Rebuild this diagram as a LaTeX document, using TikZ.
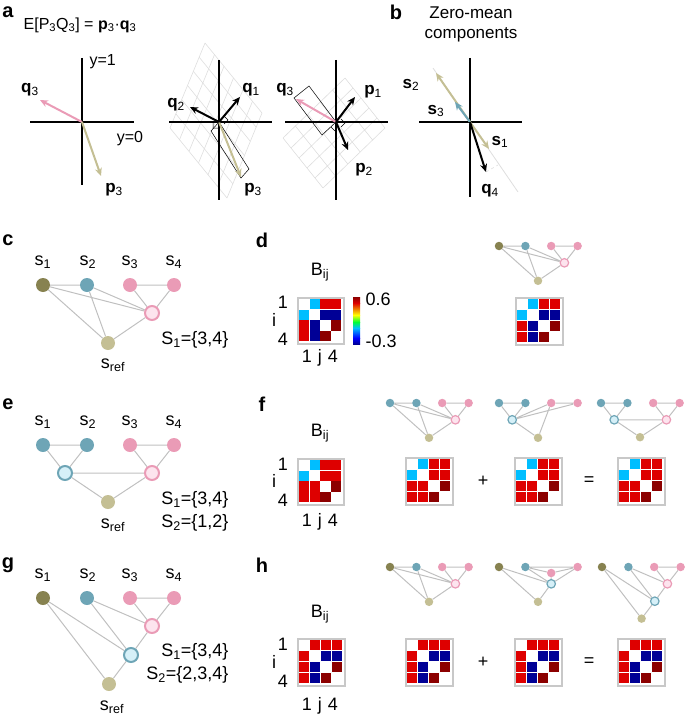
\documentclass[tikz,border=0pt]{standalone}
\usepackage{fontspec}
\setmainfont{Liberation Sans}
\usetikzlibrary{calc,arrows.meta}
\definecolor{pk}{RGB}{234,155,182}
\definecolor{pkl}{RGB}{253,228,238}
\definecolor{tl}{RGB}{110,165,182}
\definecolor{tll}{RGB}{214,240,248}
\definecolor{ol}{RGB}{135,130,80}
\definecolor{tn}{RGB}{196,191,148}
\definecolor{eg}{RGB}{192,192,192}
\definecolor{gr}{RGB}{222,222,222}
\definecolor{C}{RGB}{0,190,255}
\definecolor{R}{RGB}{222,0,0}
\definecolor{D}{RGB}{140,0,0}
\definecolor{B}{RGB}{0,0,150}
\definecolor{W}{RGB}{255,255,255}
\tikzset{
 nd/.style={circle,inner sep=0pt,minimum size=\ndsz},
 hb/.style={circle,inner sep=0pt,minimum size=\ndsz,line width=\hbw},
 ed/.style={eg,line width=1pt},
 vec/.style={line width=2pt,-{Stealth[length=8pt,width=7pt]}},
 ax/.style={black,line width=1.2pt},
 lab/.style={font=\fontsize{18}{18}\selectfont},
 vlab/.style={font=\fontsize{17}{17}\selectfont},
 alab/.style={font=\fontsize{16}{16}\selectfont},
 plab/.style={font=\fontsize{20}{20}\selectfont\bfseries},
 mfr/.style={draw={rgb,255:red,200;green,200;blue,200},line width=1.5pt}
}
\def\ndsz{14pt}\def\hbw{2pt}
\newcommand\grbase[2]{%
 \node[nd,fill=#1] (n1) at (0,0) {};
 \node[nd,fill=#2] (n2) at (44,0) {};
 \node[nd,fill=pk] (n4) at (131,0) {};}
\newcommand\grC[2]{\grbase{#1}{#2}\node[nd,fill=pk] (n3) at (87,0) {};
 \node[hb,draw=pk,fill=pkl] (hp) at (109,28) {};
 \node[nd,fill=tn] (sr) at (65,58) {};
 \begin{pgfonlayer}{bg}
 \draw[ed] (n1)--(n2) (n1)--(hp) (n1)--(sr) (n2)--(hp) (n2)--(sr) (n3)--(n4) (n3)--(hp) (n4)--(hp) (hp)--(sr);
 \end{pgfonlayer}}
\newcommand\grE[2]{\grbase{#1}{#2}\node[nd,fill=pk] (n3) at (87,0) {};
 \node[hb,draw=pk,fill=pkl] (hp) at (109,28) {};
 \node[hb,draw=tl,fill=tll] (ht) at (22,28) {};
 \node[nd,fill=tn] (sr) at (65,57) {};
 \begin{pgfonlayer}{bg}
 \draw[ed] (n1)--(n2) (n1)--(ht) (n2)--(ht) (n3)--(n4) (n3)--(hp) (n4)--(hp) (ht)--(hp) (ht)--(sr) (hp)--(sr);
 \end{pgfonlayer}}
\newcommand\grG[2]{\grbase{#1}{#2}\node[nd,fill=pk] (n3) at (87,0) {};
 \node[hb,draw=pk,fill=pkl] (hp) at (109,28) {};
 \node[hb,draw=tl,fill=tll] (ht) at (88,57) {};
 \node[nd,fill=tn] (sr) at (66,86) {};
 \begin{pgfonlayer}{bg}
 \draw[ed] (n3)--(n4) (n3)--(hp) (n4)--(hp) (n2)--(hp) (hp)--(ht) (n2)--(ht) (n1)--(ht) (n1)--(sr) (ht)--(sr);
 \end{pgfonlayer}}
\newcommand\grFb[2]{\grbase{#1}{#2}\node[nd,fill=pk] (n3) at (87,0) {};
 \node[hb,draw=tl,fill=tll] (ht) at (22,28) {};
 \node[nd,fill=tn] (sr) at (65,58) {};
 \begin{pgfonlayer}{bg}
 \draw[ed] (n1)--(n2) (n1)--(ht) (n2)--(ht) (n3)--(n4) (ht)--(n3) (ht)--(n4) (n3)--(sr) (ht)--(sr);
 \end{pgfonlayer}}
\newcommand\grHb[2]{\grbase{#1}{#2}\node[nd,fill=pk] (n3) at (87,10) {};
 \node[hb,draw=tl,fill=tll] (ht) at (87,28) {};
 \node[nd,fill=tn] (sr) at (65,58) {};
 \begin{pgfonlayer}{bg}
 \draw[ed] (n2)--(n4) (n2)--(n3) (n2)--(ht) (n3)--(n4) (n3)--(ht) (n4)--(ht) (n1)--(ht) (n1)--(sr) (ht)--(sr);
 \end{pgfonlayer}}
\newcommand\mat[4]{%
 \pgfmathsetmacro\cs{(#3-3)/4}
 \foreach \c [count=\k from 0] in #4 {
  \pgfmathtruncatemacro\r{div(\k,4)}\pgfmathtruncatemacro\q{mod(\k,4)}
  \fill[\c] ({#1+1.5+\q*\cs+0.25},{#2+1.5+\r*\cs+0.25}) rectangle ++({\cs-0.5},{\cs-0.5});
 }
 \node[mfr,inner sep=0pt,minimum size=#3pt,anchor=north west] at (#1,#2) {};}
\pgfdeclarelayer{bg}\pgfsetlayers{bg,main}
\def\MD{W,C,R,R,C,W,B,B,R,B,W,D,R,B,D,W}
\def\MF{W,C,R,R,C,W,R,R,R,R,W,D,R,R,D,W}
\def\MH{W,R,R,R,R,W,B,B,R,B,W,D,R,B,D,W}
\begin{document}
\begin{tikzpicture}[x=1pt,y=-1pt]
\useasboundingbox (0,0) rectangle (685,717);
% ---------- panel a ----------
\node[plab] (la) at (8,12) {a};
\node[font=\fontsize{16}{16}\selectfont] (ta) at (80,25) {E[P\textsubscript{3}Q\textsubscript{3}] = \textbf{p}\textsubscript{3}·\textbf{q}\textsubscript{3}};
\coordinate (o1) at (82,122);
\draw[ax] (82,58)--(82,185) (30,122)--(134,122);
\node[alab,anchor=west] (y1) at (86,62) {y=1};
\node[alab] (y0) at (130,139) {y=0};
\coordinate (q3a) at (40,100); \coordinate (p3a) at (101,176);
\draw[vec,pk] (o1)--(q3a);
\draw[vec,tn] (o1)--(p3a);
\node[vlab] (lq3a) at (30,90) {\textbf{q}\textsubscript{3}};
\node[vlab] (lp3a) at (114,190) {\textbf{p}\textsubscript{3}};
\coordinate (o2) at (219,122);
\coordinate (T2) at (205,43); \coordinate (R2) at (262,113); \coordinate (L2) at (170,128);
\coordinate (B2) at ($(R2)+(L2)-(T2)$);
\foreach \i in {0,...,6}{
 \draw[gr,line width=0.6pt] ($(T2)!\i/6!(R2)$)--($(L2)!\i/6!(B2)$);
 \draw[gr,line width=0.6pt] ($(T2)!\i/6!(L2)$)--($(R2)!\i/6!(B2)$);}
\draw[ax] (219,60)--(219,200) (169,122)--(272,122);
\draw[line width=0.5pt] (o2)--(211,131)--(241,178)--(249,169)--cycle;
\draw[line width=0.5pt] (213,123)--(213,128)--(218,128) (224,124)--(228,120)--(224,116);
\coordinate (q1b) at (240,97); \coordinate (q2b) at (190,107); \coordinate (p3b) at (241,177);
\draw[vec,tn] (o2)--(p3b);
\draw[vec] (o2)--(q1b);
\draw[vec] (o2)--(q2b);
\node[vlab] (lq2b) at (176,105) {\textbf{q}\textsubscript{2}};
\node[vlab] (lq1b) at (251,90) {\textbf{q}\textsubscript{1}};
\node[vlab] (lp3b) at (253,190) {\textbf{p}\textsubscript{3}};
\coordinate (o3) at (336,122);
\coordinate (T3) at (345,78); \coordinate (R3) at (385,128); \coordinate (L3) at (283,138);
\coordinate (B3) at ($(R3)+(L3)-(T3)$);
\foreach \i in {0,...,5}{
 \draw[gr,line width=0.6pt] ($(T3)!\i/5!(R3)$)--($(L3)!\i/5!(B3)$);
 \draw[gr,line width=0.6pt] ($(T3)!\i/5!(L3)$)--($(R3)!\i/5!(B3)$);}
\draw[ax] (336,60)--(336,200) (285,122)--(388,122);
\draw[line width=0.5pt] (o3)--(322,135)--(294,98)--(309,86)--cycle;
\draw[line width=0.5pt] (341,127)--(345,123)--(341,119) (331,127)--(335,131);
\coordinate (p1c) at (355,97); \coordinate (p2c) at (348,150); \coordinate (q3c) at (296,99);
\draw[vec,pk] (o3)--(q3c);
\draw[vec] (o3)--(p1c);
\draw[vec] (o3)--(p2c);
\node[vlab] (lq3c) at (285,90) {\textbf{q}\textsubscript{3}};
\node[vlab] (lp1c) at (373,92) {\textbf{p}\textsubscript{1}};
\node[vlab] (lp2c) at (364,170) {\textbf{p}\textsubscript{2}};
% ---------- panel b ----------
\node[plab] (lb) at (396,12) {b};
\node[font=\fontsize{17}{17}\selectfont,align=center] (tb) at (471,24) {Zero-mean\\[3pt]components};
\coordinate (o4) at (470,122);
\draw[gr,line width=0.8pt] (433,68)--(518,192);
\draw[ax] (470,58)--(470,197) (419,122)--(522,122);
\coordinate (s2d) at (436,73); \coordinate (s3d) at (455,102); \coordinate (s1d) at (489,149); \coordinate (q4d) at (486,172);
\draw[gr,dashed,line width=0.6pt] (q4d)--(498,165);
\draw[vec,tn] (o4)--(s2d);
\draw[vec,tl] (o4)--(s3d);
\draw[vec,tn] (o4)--(s1d);
\draw[vec] (o4)--(q4d);
\node[vlab] (ls2) at (411,85) {\textbf{s}\textsubscript{2}};
\node[vlab] (ls3) at (436,111) {\textbf{s}\textsubscript{3}};
\node[vlab] (ls1) at (500,142) {\textbf{s}\textsubscript{1}};
\node[vlab] (lq4) at (490,191) {\textbf{q}\textsubscript{4}};
% ---------- row c/d ----------
\node[plab] (lc) at (8,240) {c};
\node[plab] (ld) at (262,240) {d};
\begin{scope}[shift={(43,285)}] \grC{ol}{tl} \end{scope}
\foreach \x/\t [count=\k] in {43/1,88/2,130/3,174/4} \node[lab] (sc\k) at (\x,262) {s\textsubscript{\t}};
\node[lab,anchor=east] (Sc) at (232,340) {S\textsubscript{1}=\{3,4\}};
\node[lab] (src) at (113,365) {s\textsubscript{ref}};
\node[lab] (Bd) at (320,272) {B\textsubscript{ij}};
\mat{297}{297}{46}{\MD}
\node[lab] (d1) at (283,302) {1}; \node[lab] (di) at (274,320) {i}; \node[lab] (d4) at (283,339) {4};
\node[lab] (dj) at (320,358) {1\hspace{6pt}j\hspace{6pt}4};
\shade[top color=D,bottom color=R] (353,297) rectangle (360,303);
\shade[top color=R,bottom color=yellow] (353,303) rectangle (360,315);
\shade[top color=yellow,bottom color=green!80!cyan] (353,315) rectangle (360,322);
\shade[top color=green!80!cyan,bottom color=C] (353,322) rectangle (360,328);
\shade[top color=C,bottom color=blue] (353,328) rectangle (360,338);
\shade[top color=blue,bottom color=B] (353,338) rectangle (360,344);
\node[lab,anchor=west] (cb1) at (362,299) {0.6};
\node[lab,anchor=west] (cb2) at (362,341) {-0.3};
\def\ndsz{8.5pt}\def\hbw{1.2pt}
\begin{scope}[shift={(499,246)},scale=0.6] \grC{ol}{tl} \end{scope}
\mat{515}{297}{47}{\MD}
% ---------- row e/f ----------
\def\ndsz{14pt}\def\hbw{2pt}
\node[plab] (le) at (8,404) {e};
\node[plab] (lf) at (262,404) {f};
\begin{scope}[shift={(43,445)}] \grE{tl}{tl} \end{scope}
\foreach \x/\t [count=\k] in {43/1,88/2,130/3,174/4} \node[lab] (se\k) at (\x,422) {s\textsubscript{\t}};
\node[lab,anchor=east] (Se1) at (232,500) {S\textsubscript{1}=\{3,4\}};
\node[lab,anchor=east] (Se2) at (232,523) {S\textsubscript{2}=\{1,2\}};
\node[lab] (sre) at (113,525) {s\textsubscript{ref}};
\node[lab] (Bf) at (320,433) {B\textsubscript{ij}};
\mat{297}{458}{46}{\MF}
\node[lab] (f1) at (283,464) {1}; \node[lab] (fi) at (274,481) {i}; \node[lab] (f4) at (283,500) {4};
\node[lab] (fj) at (320,522) {1\hspace{6pt}j\hspace{6pt}4};
\def\ndsz{8.5pt}\def\hbw{1.2pt}
\begin{scope}[shift={(390,403)},scale=0.6] \grC{tl}{tl} \end{scope}
\begin{scope}[shift={(499,403)},scale=0.6] \grFb{tl}{tl} \end{scope}
\begin{scope}[shift={(601,403)},scale=0.6] \grE{tl}{tl} \end{scope}
\mat{405}{457}{47}{\MF}
\mat{514}{457}{47}{\MF}
\mat{617}{457}{47}{\MF}
\node[font=\fontsize{18}{18}\selectfont] (pf) at (483,481) {+};
\node[font=\fontsize{18}{18}\selectfont] (ef) at (589,481) {=};
% ---------- row g/h ----------
\def\ndsz{14pt}\def\hbw{2pt}
\node[plab] (lg) at (8,565) {g};
\node[plab] (lh) at (262,565) {h};
\begin{scope}[shift={(43,598)}] \grG{ol}{tl} \end{scope}
\foreach \x/\t [count=\k] in {43/1,88/2,130/3,174/4} \node[lab] (sg\k) at (\x,575) {s\textsubscript{\t}};
\node[lab,anchor=east] (Sg1) at (232,652) {S\textsubscript{1}=\{3,4\}};
\node[lab,anchor=east] (Sg2) at (232,675) {S\textsubscript{2}=\{2,3,4\}};
\node[lab] (srg) at (112,707) {s\textsubscript{ref}};
\node[lab] (Bh) at (320,614) {B\textsubscript{ij}};
\mat{297}{638}{47}{\MH}
\node[lab] (h1) at (283,644) {1}; \node[lab] (hi) at (274,662) {i}; \node[lab] (h4) at (283,681) {4};
\node[lab] (hj) at (320,706) {1\hspace{6pt}j\hspace{6pt}4};
\def\ndsz{8.5pt}\def\hbw{1.2pt}
\begin{scope}[shift={(390,567)},scale=0.6] \grC{ol}{tl} \end{scope}
\begin{scope}[shift={(499,567)},scale=0.6] \grHb{ol}{tl} \end{scope}
\begin{scope}[shift={(602,567)},scale=0.6] \grG{ol}{tl} \end{scope}
\mat{405}{638}{47}{\MH}
\mat{514}{638}{47}{\MH}
\mat{617}{638}{47}{\MH}
\node[font=\fontsize{18}{18}\selectfont] (ph) at (483,662) {+};
\node[font=\fontsize{18}{18}\selectfont] (eh) at (589,662) {=};
\end{tikzpicture}
\end{document}
